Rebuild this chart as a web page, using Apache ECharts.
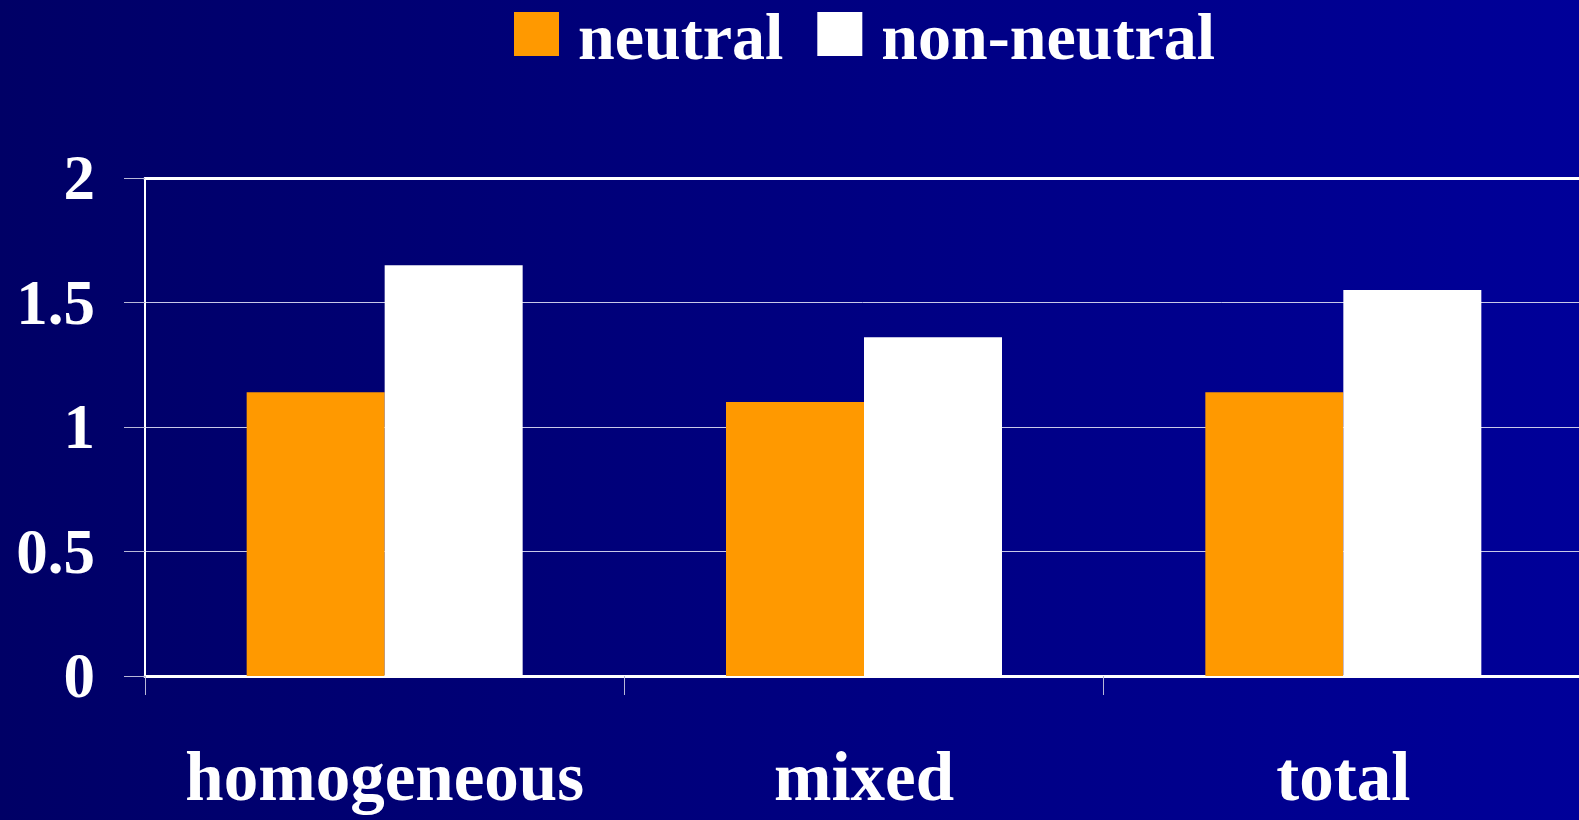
<!DOCTYPE html>
<html>
<head>
<meta charset="utf-8">
<script src="https://cdn.jsdelivr.net/npm/echarts@6/dist/echarts.min.js"></script>
<style>
html,body{margin:0;padding:0;}
#chart{width:1579px;height:820px;background:linear-gradient(to right,#000066,#000099);}
</style>
</head>
<body>
<div id="chart"></div>
<script>
const categories = ['homogeneous', 'mixed', 'total'];
const neutral = [1.14, 1.10, 1.14];
const nonNeutral = [1.65, 1.36, 1.55];
const yTicks = [0, 0.5, 1, 1.5, 2];

const FONT = '"Liberation Serif", "DejaVu Serif", serif';
const chart = echarts.init(document.getElementById('chart'), null, {renderer: 'canvas'});
chart.setOption({
  backgroundColor: 'transparent',
  animation: false,
  legend: {
    left: 509, top: 4,
    icon: 'path://M0,0L45,0L45,44L0,44Z M0,60L0.01,60Z',
    itemWidth: 45, itemHeight: 60, itemGap: 34,
    textStyle: {color: '#ffffff', fontFamily: FONT, fontWeight: 'bold', fontSize: 66, padding: [0, 0, 0, 14]},
    data: ['neutral', 'non-neutral']
  },
  grid: {left: 145, top: 178, bottom: 144, width: 1438, containLabel: false, outerBoundsMode: 'none'},
  xAxis: [{
    type: 'category',
    data: categories,
    axisLine: {lineStyle: {color: '#ffffff', width: 3}},
    axisTick: {show: true, interval: 0, length: 19, lineStyle: {color: '#b8b8d8', width: 1}},
    axisLabel: {interval: 0, color: '#ffffff', fontFamily: FONT, fontWeight: 'bold', fontSize: 69, margin: 72},
    splitLine: {show: false}
  }, {
    type: 'category',
    position: 'top',
    data: categories,
    axisLine: {lineStyle: {color: '#ffffff', width: 3}},
    axisTick: {show: false},
    axisLabel: {show: false}
  }],
  yAxis: {
    type: 'value',
    min: 0, max: 2, interval: 0.5,
    axisLine: {show: true, lineStyle: {color: '#ffffff', width: 2}},
    axisTick: {show: true, length: 21, lineStyle: {color: '#b8b8d8', width: 1}},
    axisLabel: {
      color: '#ffffff', fontFamily: FONT, fontWeight: 'bold', fontSize: 63, margin: 50,
      verticalAlign: 'top', lineHeight: 10,
      formatter: function (v) { return yTicks.indexOf(v) >= 0 ? String(v) : ''; }
    },
    splitLine: {show: true, lineStyle: {color: '#c8c8e8', width: 1}}
  },
  series: [{
    name: 'neutral', type: 'bar', data: neutral,
    barWidth: 138, barGap: '0%',
    itemStyle: {color: '#ff9900'}
  }, {
    name: 'non-neutral', type: 'bar', data: nonNeutral,
    barWidth: 138, barGap: '0%',
    itemStyle: {color: '#ffffff'}
  }]
});
</script>
</body>
</html>
